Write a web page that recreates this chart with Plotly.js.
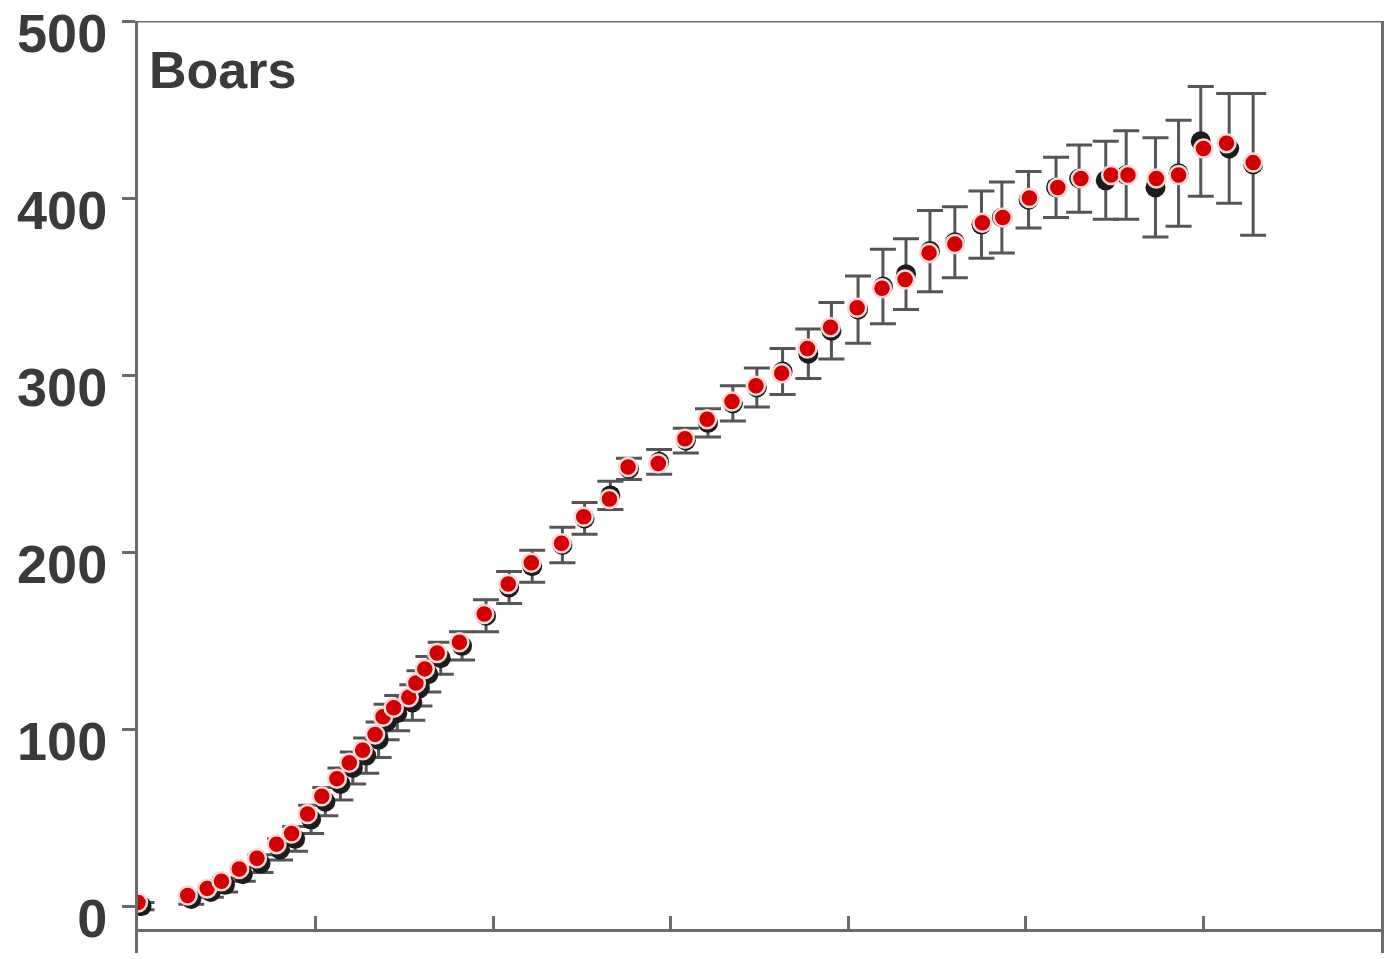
<!DOCTYPE html>
<html>
<head>
<meta charset="utf-8">
<script src="https://cdn.plot.ly/plotly-3.0.1.min.js"></script>
<style>
  html, body { margin: 0; padding: 0; background: #ffffff; }
  #chart { width: 1396px; height: 959px; }
</style>
</head>
<body>
<div id="chart"></div>
<script>
// Body weight of boars over time: group means (dark, with SD bars) and individual series (red)
const panelLabel = "Boars";

const redX = [0, 5.6, 7.8, 9.4, 11.4, 13.4, 15.6, 17.3, 19.1, 20.7,
  22.4, 23.8, 25.3, 26.7, 27.6, 28.8, 30.5, 31.3, 32.3, 33.7,
  36.2, 39.0, 41.7, 44.3, 47.7, 50.2, 53.1, 55.2, 58.6, 61.6,
  64.1, 66.9, 69.6, 72.5, 75.4, 78.0, 81.0, 83.8, 86.4, 89.1,
  92.0, 95.1, 97.4, 100.4, 103.6, 106.2, 109.6, 111.5, 114.7, 117.2,
  120.0, 122.6, 125.6];
const redY = [2, 6, 10, 14, 21, 27, 35, 41, 52, 62,
  72, 81, 88, 97, 107, 112, 118, 126, 134, 143,
  149, 165, 182, 194, 205, 220, 230, 248, 250, 264,
  275, 285, 294, 301, 315, 327, 338, 349, 354, 369,
  374, 386, 389, 400, 406, 411, 413, 413, 411, 413,
  428, 431, 420];

const meanX = [0.4, 6.0, 8.2, 9.8, 11.8, 13.8, 16.0, 17.7, 19.5, 21.1,
  22.8, 24.2, 25.7, 27.1, 28.0, 29.2, 30.9, 31.7, 32.7, 34.1,
  36.5, 39.2, 41.8, 44.4, 47.8, 50.3, 53.2, 55.3, 58.7, 61.7,
  64.2, 67.0, 69.7, 72.6, 75.5, 78.1, 81.1, 83.9, 86.5, 89.2,
  92.0, 95.0, 97.3, 100.3, 103.4, 106.0, 109.0, 111.3, 114.6, 117.2,
  119.7, 122.9, 125.6];
const meanY = [0, 4, 8, 12, 18, 24, 32, 38, 49, 59,
  69, 78, 85, 94, 104, 109, 115, 123, 131, 140,
  147, 164, 180, 192, 204, 219, 232, 247, 251, 263,
  273, 284, 293, 302, 312, 325, 337, 350, 357, 370,
  375, 385, 389, 399, 406, 411, 410, 413, 406, 414,
  432, 428, 419];
const meanSD = [2, 3, 3, 4, 4, 5, 6, 7, 8, 8,
  9, 9, 10, 10, 10, 10, 10, 10, 10, 9,
  8, 9, 9, 9, 10, 9, 8, 6, 7, 7,
  8, 10, 11, 13, 14, 16, 19, 21, 20, 23,
  20, 19, 20, 16, 17, 19, 22, 25, 28, 30,
  31, 31, 40];

const yTickVals = [0, 100, 200, 300, 400, 500];
const yTickText = ["0", "100", "200", "300", "400", "500"];
const xTickVals = [20, 40, 60, 80, 100, 120];

const axisColor = "#6a6a6a";
const textColor = "#3a3a3a";

const traces = [
  {
    type: "scatter", mode: "markers", x: meanX, y: meanY,
    error_y: { type: "data", array: meanSD, visible: true, color: "#555555", thickness: 3, width: 13 },
    marker: { size: 20, color: "#1c1c1c", line: { width: 0 } },
    hoverinfo: "x+y", showlegend: false
  },
  {
    type: "scatter", mode: "markers", x: redX, y: redY,
    marker: { size: 18, color: "#d40000", line: { width: 2.5, color: "#f6d8d8" } },
    hoverinfo: "x+y", showlegend: false
  }
];

const layout = {
  width: 1396, height: 959,
  margin: { l: 138, r: 15, t: 21, b: 6, pad: 0 },
  paper_bgcolor: "#ffffff", plot_bgcolor: "#ffffff",
  showlegend: false,
  font: { family: "Liberation Sans, Arial, sans-serif", color: textColor },
  xaxis: {
    range: [0, 140], anchor: "free", position: 0.0247,
    showgrid: false, zeroline: false,
    showline: true, linecolor: axisColor, linewidth: 3,
    ticks: "inside", ticklen: 13, tickwidth: 3, tickcolor: axisColor,
    tickvals: xTickVals, showticklabels: false
  },
  yaxis: {
    range: [-26.5, 500],
    showgrid: false, zeroline: false,
    showline: true, mirror: true, linecolor: axisColor, linewidth: 3,
    ticks: "outside", ticklen: 13, tickwidth: 3, tickcolor: axisColor,
    tickvals: yTickVals, ticktext: yTickText,
    ticklabelshift: 12, ticklabelstandoff: 4, ticklabeloverflow: "allow",
    tickfont: { family: "Liberation Sans, Arial, sans-serif", size: 54, weight: "bold", color: textColor }
  },
  shapes: [
    { type: "line", xref: "paper", yref: "y", x0: 0, x1: 1, y0: 500, y1: 500,
      line: { color: axisColor, width: 3 } }
  ],
  annotations: [
    { text: panelLabel, xref: "paper", yref: "paper", x: 0, y: 0.9474,
      xanchor: "left", yanchor: "middle", xshift: 9, showarrow: false,
      font: { family: "Liberation Sans, Arial, sans-serif", size: 52, weight: "bold", color: textColor } }
  ]
};

Plotly.newPlot("chart", traces, layout, { displayModeBar: false, staticPlot: true });
</script>
</body>
</html>
